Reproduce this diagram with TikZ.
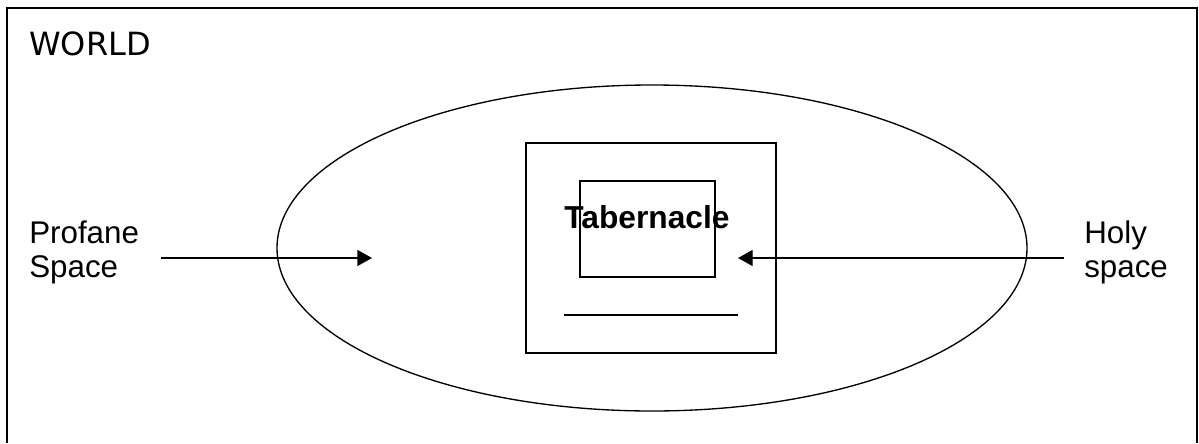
\documentclass[tikz,border=0pt]{standalone}
\usepackage{fontspec}
\setmainfont{Liberation Sans}
\newfontfamily\worldfont{DejaVu Sans}
\usetikzlibrary{arrows.meta}

\begin{document}
\begin{tikzpicture}[x=0.75pt, y=-0.75pt, % unidades en pixeles, y hacia abajo
    label/.style={inner sep=0pt, align=left, font=\fontsize{23.5}{25.5}\selectfont},
    box/.style={draw, line width=1pt},
    arrow/.style={line width=1pt, -{Triangle[length=11pt, width=12pt]}}]
    \useasboundingbox (0,0) rectangle (1199,443);
    % Marco del mundo, abierto abajo
    \draw[line width=1.4pt] (7,443) -- (7,8) -- (1197,8) -- (1197,443);
    \node[label, font=\fontsize{24}{26}\worldfont, anchor=base west] (world) at (29,55) {WORLD};
    % Elipse y recintos
    \draw[line width=1pt] (652,248) ellipse [x radius=375, y radius=163];
    \draw[box] (526,143) rectangle (776,353);
    \draw[box] (580,181) rectangle (715,277);
    \draw[line width=1pt] (564,315) -- (738,315);
    \node[label, font=\fontsize{23.8}{25.5}\selectfont\bfseries, anchor=base]
        (tabernacle) at (647,228) {Tabernacle};
    % Etiquetas laterales y flechas (base = ultima linea)
    \node[label, anchor=base west] (profane) at (29,277) {Profane\\Space};
    \node[label, anchor=base west] (holy) at (1084,277) {Holy\\space};
    \coordinate (profane-from) at (161,258);
    \coordinate (profane-to) at (372,258);
    \coordinate (holy-from) at (1064,258);
    \coordinate (holy-to) at (738,258);
    \draw[arrow] (profane-from) -- (profane-to);
    \draw[arrow] (holy-from) -- (holy-to);
\end{tikzpicture}
\end{document}
